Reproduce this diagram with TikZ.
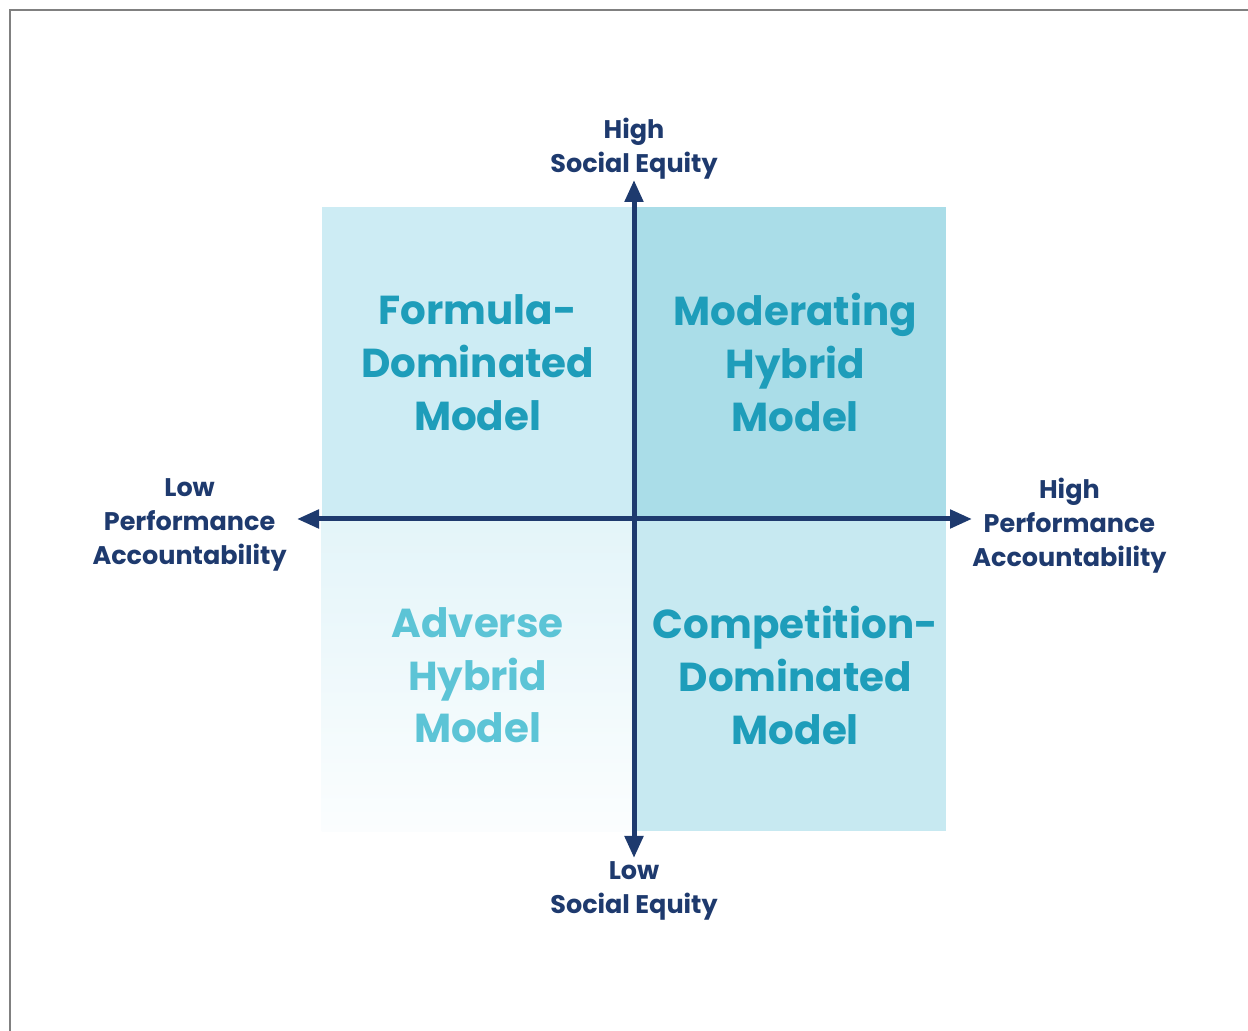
\documentclass[tikz,border=0pt]{standalone}
\usepackage{fontspec}
\setmainfont{Poppins}
\usepackage{xcolor}
\usepackage{tikz}
\usetikzlibrary{arrows.meta,positioning}
\definecolor{navy}{HTML}{1E3A6E}
\definecolor{teal}{HTML}{1E9DBA}
\definecolor{paleteal}{HTML}{5CC4D6}
\definecolor{qtl}{HTML}{CDECF4}
\definecolor{qtr}{HTML}{AADDE8}
\definecolor{qbr}{HTML}{C7E9F1}
\definecolor{frame}{HTML}{808080}
\tikzset{
  quad/.style={minimum width=6.24cm, minimum height=6.24cm, inner sep=0pt, align=center,
    font=\fontsize{23}{30}\selectfont\bfseries, text=teal},
  axlabel/.style={align=center, inner sep=0pt, text=navy,
    font=\fontsize{14.5}{19.4}\selectfont\bfseries},
  axis/.style={{Triangle[length=4.4mm, width=3.6mm]}-{Triangle[length=4.4mm, width=3.6mm]}, line width=1mm, draw=navy}
}

\begin{document}
\begin{tikzpicture}
  \useasboundingbox (0,0) rectangle (24.96,20.62);
  \draw[frame, line width=1.2pt] (0.2,-1) |- (26,20.42);

  \coordinate (o) at (12.68,10.24);
  \node[quad, fill=qtl, anchor=south east] (tl) at (o) {Formula-\\Dominated\\Model};
  \node[quad, fill=qtr, anchor=south west] (tr) at (o) {\hspace*{0.2cm}Moderating\\\hspace*{0.2cm}Hybrid\\\hspace*{0.2cm}Model};
  \node[quad, top color=qtl!55, bottom color=white!92!qtl, text=paleteal, anchor=north east] (bl) at (o) {Adverse\\Hybrid\\Model};
  \node[quad, fill=qbr, anchor=north west] (br) at (o) {\hspace*{0.2cm}Competition-\\\hspace*{0.2cm}Dominated\\\hspace*{0.2cm}Model};

  % axes
  \coordinate (up) at (12.68,17.02);
  \coordinate (down) at (12.68,3.46);
  \coordinate (lt) at (5.94,10.24);
  \coordinate (rt) at (19.44,10.24);
  \draw[axis] (down) -- (up);
  \draw[axis] (lt) -- (rt);

  \node[axlabel, above=0cm of up] (hi) {High\\Social Equity};
  \node[axlabel, below=0.06cm of down] (lo) {Low\\Social Equity};
  \node[axlabel, left=0.2cm of lt, yshift=-0.12cm] (lpa) {Low\\Performance\\Accountability};
  \node[axlabel, right=0cm of rt, yshift=-0.13cm] (hpa) {High\\Performance\\Accountability};
\end{tikzpicture}
\end{document}
